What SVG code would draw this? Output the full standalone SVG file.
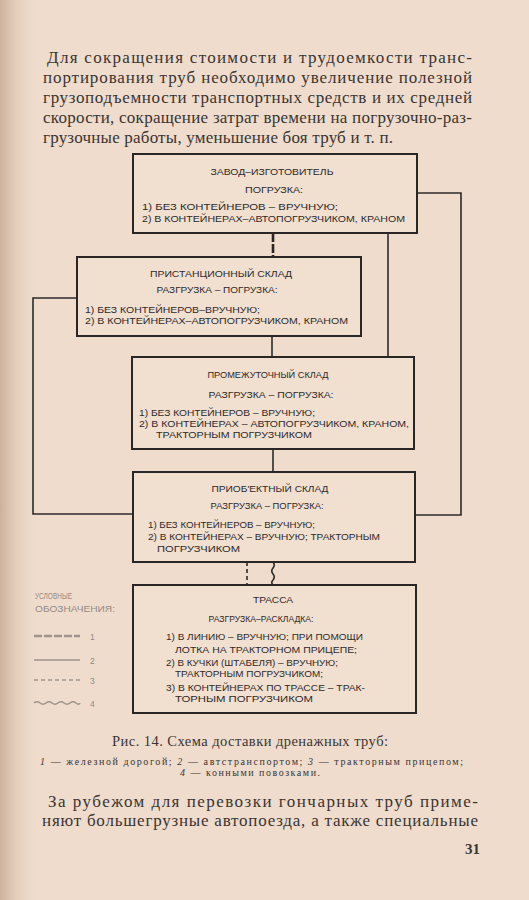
<svg xmlns="http://www.w3.org/2000/svg" width="529" height="900" viewBox="0 0 529 900">
<defs>
<linearGradient id="edge" x1="0" y1="0" x2="1" y2="0">
<stop offset="0" stop-color="#c9ad97" stop-opacity="0.9"/>
<stop offset="1" stop-color="#efdccc" stop-opacity="0"/>
</linearGradient>
<style>
.para{font-family:"Liberation Serif","DejaVu Serif",serif;font-size:17px;fill:#3a3432}
.cap{font-family:"Liberation Serif","DejaVu Serif",serif;fill:#3a3432}
.bx{font-family:"Liberation Sans","DejaVu Sans",sans-serif;font-size:9.5px;fill:#2e2a2a}
.box{fill:#f1dfd0;stroke:#2a2626;stroke-width:2}
.c{fill:none;stroke:#2f2a2a;stroke-width:1.6}
.lg{font-family:"Liberation Sans","DejaVu Sans",sans-serif;font-size:8.5px;fill:#958a84}
.lgl{fill:none;stroke:#a0948c;stroke-width:1.6}
</style>
</defs>
<rect x="0" y="0" width="529" height="900" fill="#efdccc"/>
<rect x="0" y="0" width="40" height="900" fill="url(#edge)"/>

<g id="text-top">
<text class="para" x="47" y="63" textLength="425" lengthAdjust="spacing">Для сокращения стоимости и трудоемкости транс-</text>
<text class="para" x="43" y="83" textLength="429" lengthAdjust="spacing">портирования труб необходимо  увеличение  полезной</text>
<text class="para" x="43" y="103" textLength="429" lengthAdjust="spacing">грузоподъемности транспортных средств и их средней</text>
<text class="para" x="43" y="123" textLength="429" lengthAdjust="spacing">скорости, сокращение затрат времени на погрузочно-раз-</text>
<text class="para" x="43" y="143" textLength="350" lengthAdjust="spacing">грузочные работы, уменьшение боя труб и т. п.</text>
</g>

<g id="connectors">
<line x1="273" y1="233" x2="273" y2="258" stroke="#2a2626" stroke-width="2.6" stroke-dasharray="9 2"/>
<polyline class="c" points="416,193 461,193 461,515 415,515"/>
<line class="c" x1="388" y1="233" x2="388" y2="357"/>
<polyline class="c" points="77,298 33,298 33,514 133,514"/>
<line class="c" x1="272" y1="336" x2="272" y2="357"/>
<line class="c" x1="273" y1="449" x2="273" y2="472"/>
<line class="c" x1="247" y1="562" x2="247" y2="585" stroke-dasharray="4 3"/>
<path class="c" d="M273,562 q2.5,3 0,6 q-2.5,3 0,6 q2.5,3 0,6 q-2.5,2.5 0,5"/>
</g>

<g id="node-zavod">
<rect class="box" x="133" y="154" width="284" height="79"/>
<text class="bx" x="272" y="175" text-anchor="middle" textLength="123" lengthAdjust="spacingAndGlyphs">ЗАВОД–ИЗГОТОВИТЕЛЬ</text>
<text class="bx" x="274" y="192.5" text-anchor="middle" textLength="58" lengthAdjust="spacingAndGlyphs">ПОГРУЗКА:</text>
<text class="bx" x="142" y="210" textLength="196" lengthAdjust="spacingAndGlyphs">1) БЕЗ КОНТЕЙНЕРОВ – ВРУЧНУЮ;</text>
<text class="bx" x="142" y="221.5" textLength="263" lengthAdjust="spacingAndGlyphs">2) В КОНТЕЙНЕРАХ–АВТОПОГРУЗЧИКОМ, КРАНОМ</text>
</g>

<g id="node-pristantsionny">
<rect class="box" x="77" y="257" width="284" height="79"/>
<text class="bx" x="221" y="277" text-anchor="middle" textLength="142" lengthAdjust="spacingAndGlyphs">ПРИСТАНЦИОННЫЙ СКЛАД</text>
<text class="bx" x="217" y="293" text-anchor="middle" textLength="121" lengthAdjust="spacingAndGlyphs">РАЗГРУЗКА – ПОГРУЗКА:</text>
<text class="bx" x="85" y="313" textLength="175" lengthAdjust="spacingAndGlyphs">1) БЕЗ КОНТЕЙНЕРОВ–ВРУЧНУЮ;</text>
<text class="bx" x="85" y="324" textLength="263" lengthAdjust="spacingAndGlyphs">2) В КОНТЕЙНЕРАХ–АВТОПОГРУЗЧИКОМ,  КРАНОМ</text>
</g>

<g id="node-promezhutochny">
<rect class="box" x="132" y="357" width="282" height="92"/>
<text class="bx" x="268" y="378" text-anchor="middle" textLength="121" lengthAdjust="spacingAndGlyphs">ПРОМЕЖУТОЧНЫЙ СКЛАД</text>
<text class="bx" x="271" y="398" text-anchor="middle" textLength="125" lengthAdjust="spacingAndGlyphs">РАЗГРУЗКА – ПОГРУЗКА:</text>
<text class="bx" x="139" y="416" textLength="176" lengthAdjust="spacingAndGlyphs">1) БЕЗ КОНТЕЙНЕРОВ – ВРУЧНУЮ;</text>
<text class="bx" x="139" y="427" textLength="270" lengthAdjust="spacingAndGlyphs">2) В КОНТЕЙНЕРАХ – АВТОПОГРУЗЧИКОМ, КРАНОМ,</text>
<text class="bx" x="156" y="437.5" textLength="156" lengthAdjust="spacingAndGlyphs">ТРАКТОРНЫМ  ПОГРУЗЧИКОМ</text>
</g>

<g id="node-priobektny">
<rect class="box" x="133" y="472" width="282" height="90"/>
<text class="bx" x="270" y="492" text-anchor="middle" textLength="117" lengthAdjust="spacingAndGlyphs">ПРИОБ'ЕКТНЫЙ СКЛАД</text>
<text class="bx" x="267" y="509" text-anchor="middle" textLength="113" lengthAdjust="spacingAndGlyphs">РАЗГРУЗКА – ПОГРУЗКА:</text>
<text class="bx" x="148" y="528" textLength="167" lengthAdjust="spacingAndGlyphs">1) БЕЗ КОНТЕЙНЕРОВ – ВРУЧНУЮ;</text>
<text class="bx" x="148" y="540" textLength="232" lengthAdjust="spacingAndGlyphs">2) В КОНТЕЙНЕРАХ – ВРУЧНУЮ; ТРАКТОРНЫМ</text>
<text class="bx" x="157" y="552" textLength="83" lengthAdjust="spacingAndGlyphs">ПОГРУЗЧИКОМ</text>
</g>

<g id="node-trassa">
<rect class="box" x="133" y="585" width="283" height="128"/>
<text class="bx" x="273" y="603" text-anchor="middle" textLength="40" lengthAdjust="spacingAndGlyphs">ТРАССА</text>
<text class="bx" x="261" y="622" text-anchor="middle" textLength="105" lengthAdjust="spacingAndGlyphs">РАЗГРУЗКА–РАСКЛАДКА:</text>
<text class="bx" x="166" y="640" textLength="197" lengthAdjust="spacingAndGlyphs">1) В ЛИНИЮ – ВРУЧНУЮ; ПРИ ПОМОЩИ</text>
<text class="bx" x="175" y="653" textLength="182" lengthAdjust="spacingAndGlyphs">ЛОТКА НА ТРАКТОРНОМ ПРИЦЕПЕ;</text>
<text class="bx" x="166" y="666" textLength="172" lengthAdjust="spacingAndGlyphs">2) В КУЧКИ (ШТАБЕЛЯ) – ВРУЧНУЮ;</text>
<text class="bx" x="175" y="677" textLength="148" lengthAdjust="spacingAndGlyphs">ТРАКТОРНЫМ  ПОГРУЗЧИКОМ;</text>
<text class="bx" x="166" y="691" textLength="199" lengthAdjust="spacingAndGlyphs">3) В КОНТЕЙНЕРАХ ПО ТРАССЕ – ТРАК-</text>
<text class="bx" x="175" y="702" textLength="138" lengthAdjust="spacingAndGlyphs">ТОРНЫМ  ПОГРУЗЧИКОМ</text>
</g>

<g id="legend">
<text class="lg" x="35" y="599" textLength="37" lengthAdjust="spacingAndGlyphs">УСЛОВНЫЕ</text>
<text class="lg" x="35" y="612" textLength="80" lengthAdjust="spacingAndGlyphs">ОБОЗНАЧЕНИЯ:</text>
<line x1="34" y1="636" x2="80" y2="636" stroke="#a0948c" stroke-width="2.4" stroke-dasharray="8 2"/>
<text class="lg" x="90" y="640" font-size="11">1</text>
<line class="lgl" x1="34" y1="660" x2="80" y2="660"/>
<text class="lg" x="90" y="664" font-size="11">2</text>
<line class="lgl" x1="34" y1="680" x2="80" y2="680" stroke-dasharray="4 3"/>
<text class="lg" x="90" y="684" font-size="11">3</text>
<path class="lgl" d="M34,703 q3,-2.5 6,0 q3,2.5 6,0 q3,-2.5 6,0 q3,2.5 6,0 q3,-2.5 6,0 q3,2.5 6,0 q3,-2.5 6,0 q3,2.5 4,0"/>
<text class="lg" x="90" y="707" font-size="11">4</text>
</g>

<g id="caption">
<text class="cap" x="112" y="746" font-size="14.5" textLength="276" lengthAdjust="spacing">Рис. 14. Схема доставки дренажных труб:</text>
<text class="cap" x="40" y="765" font-size="10" textLength="423" lengthAdjust="spacing"><tspan font-style="italic">1</tspan> — железной  дорогой;  <tspan font-style="italic">2</tspan> — автстранспортом;  <tspan font-style="italic">3</tspan> — тракторным  прицепом;</text>
<text class="cap" x="180" y="775.5" font-size="10" textLength="140" lengthAdjust="spacing"><tspan font-style="italic">4</tspan> — конными  повозками.</text>
</g>

<g id="text-bottom">
<text class="para" x="48" y="807" textLength="430" lengthAdjust="spacing">За рубежом для перевозки гончарных труб приме-</text>
<text class="para" x="42" y="826" textLength="436" lengthAdjust="spacing">няют большегрузные автопоезда, а также специальные</text>
<text class="cap" x="465" y="854" font-size="15" font-weight="bold">31</text>
</g>
</svg>
